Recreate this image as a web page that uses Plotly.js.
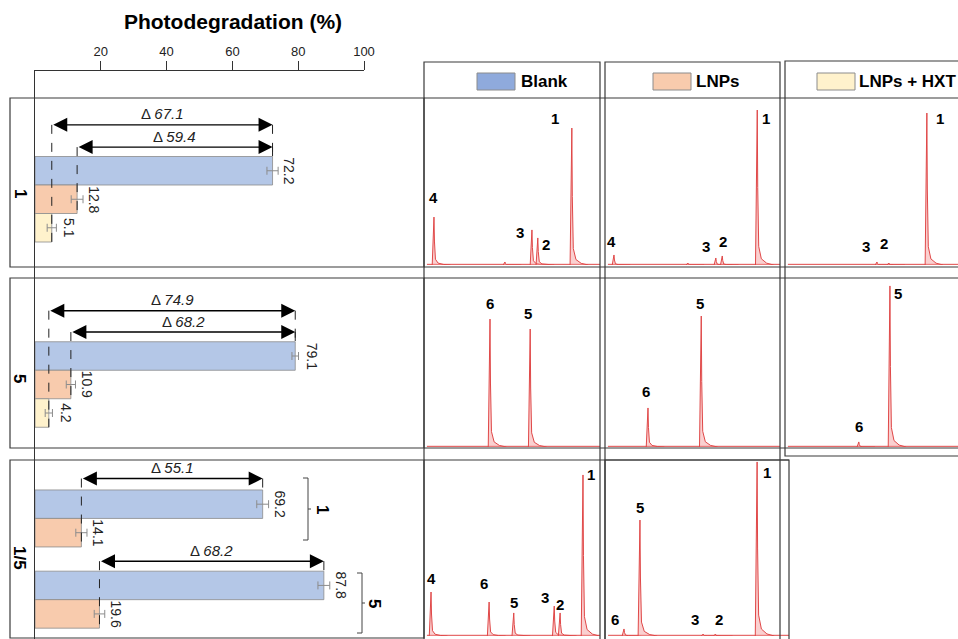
<!DOCTYPE html>
<html><head><meta charset="utf-8">
<script src="https://cdn.plot.ly/plotly-3.0.1.min.js"></script>
<style>html,body{margin:0;padding:0;background:#fff}#chart{width:958px;height:639px}</style>
</head><body><div id="chart"></div>
<script>
// ================= DATA =================
const groups = ["Blank", "LNPs", "LNPs + HXT"];
const rowLabels = ["1", "5", "1/5"];
const mixLabels = ["1", "5"];
const xTicks = [20, 40, 60, 80, 100];

// photodegradation (%) and error
const row1Values = [72.2, 12.8, 5.1];
const row1Errors = [1.7, 1.8, 1.4];
const row5Values = [79.1, 10.9, 4.2];
const row5Errors = [1.0, 1.4, 1.1];
const mix1Values = [69.2, 14.1];
const mix1Errors = [1.8, 1.7];
const mix5Values = [87.8, 19.6];
const mix5Errors = [1.8, 1.6];

// chromatogram peaks: label, retention time (min), relative intensity (%)
const blank1Lbl = ["4", "", "3", "2", "1"];
const blank1Rt = [1.7, 13.8, 18.4, 19.4, 25.2];
const blank1H = [28.7, 1.8, 21.0, 16.2, 82.0];
const lnps1Lbl = ["4", "", "3", "2", "1"];
const lnps1Rt = [1.54, 14.2, 19.0, 20.1, 26.1];
const lnps1H = [6.0, 1.2, 4.2, 5.4, 92.8];
const hxt1Lbl = ["3", "2", "1"];
const hxt1Rt = [15.95, 18.0, 24.6];
const hxt1H = [1.8, 1.2, 91.0];
const blank5Lbl = ["6", "5"];
const blank5Rt = [11.25, 18.1];
const blank5H = [75.7, 69.8];
const lnps5Lbl = ["6", "5"];
const lnps5Rt = [7.37, 16.5];
const lnps5H = [23.1, 77.5];
const hxt5Lbl = ["6", "5"];
const hxt5Rt = [12.8, 18.2];
const hxt5H = [3.0, 95.3];
const blankMixLbl = ["4", "6", "5", "3", "2", "1"];
const blankMixRt = [1.2, 11.1, 15.3, 22.2, 23.2, 27.1];
const blankMixH = [25.0, 19.3, 13.1, 17.0, 13.1, 91.5];
const lnpsMixLbl = ["6", "5", "3", "2", "1"];
const lnpsMixRt = [3.1, 5.7, 16.0, 18.0, 24.8];
const lnpsMixH = [4.0, 65.9, 1.1, 1.1, 98.9];

// ================= LAYOUT / STYLE =================
const W = 958, H = 639;
const px = x => x / W, py = y => 1 - y / H;
const FONT = "Arial, 'Liberation Sans', sans-serif";
const barColors = ["#B4C7E7", "#F8CBAD", "#FFF2CC"];
const swatchColors = ["#8FAADC", "#F8CBAD", "#FFF2CC"];
const lineCol = "#3a3a3a";
const axisTopPx = 71, slotPx = 28.5;
const yMax = (H - axisTopPx) / slotPx;

const traces = [];
const annotations = [];
const shapes = [];
const ann = o => annotations.push(Object.assign({xanchor: "center", yanchor: "middle", showarrow: false}, o));

// ---- bar groups (positions in slot units) ----
const barGroups = [
  {vals: row1Values, errs: row1Errors, slots: [3.5, 4.5, 5.5], colors: barColors},
  {vals: row5Values, errs: row5Errors, slots: [10, 11, 12], colors: barColors},
  {vals: mix1Values, errs: mix1Errors, slots: [15.2, 16.2], colors: barColors.slice(0, 2)},
  {vals: mix5Values, errs: mix5Errors, slots: [18.05, 19.05], colors: barColors.slice(0, 2)}
];
barGroups.forEach(g => {
  traces.push({
    type: "bar", orientation: "h", x: g.vals, y: g.slots, width: 1,
    marker: {color: g.colors, line: {color: "#8c8c8c", width: 0.8}},
    error_x: {type: "data", array: g.errs, visible: true, color: "#8c8c8c", thickness: 1, width: 4},
    xaxis: "x", yaxis: "y", hoverinfo: "x"
  });
  g.vals.forEach((v, i) => ann({
    xref: "x", yref: "y", x: v, y: g.slots[i], xshift: 17, text: v.toFixed(1),
    textangle: 90, font: {family: FONT, size: 14, color: "#222"}
  }));
});

// ---- delta arrows ----
const deltas = [
  {from: row1Values[2], to: row1Values[0], y: 1.89, barBottom: 6.0, topBar: 3.0},
  {from: row1Values[1], to: row1Values[0], y: 2.67, barBottom: 5.0, topBar: 3.0},
  {from: row5Values[2], to: row5Values[0], y: 8.41, barBottom: 12.5, topBar: 9.5},
  {from: row5Values[1], to: row5Values[0], y: 9.16, barBottom: 11.5, topBar: 9.5},
  {from: mix1Values[1], to: mix1Values[0], y: 14.3, barBottom: 16.7, topBar: 14.7},
  {from: mix5Values[1], to: mix5Values[0], y: 17.2, barBottom: 19.55, topBar: 17.55}
];
deltas.forEach(d => {
  annotations.push({
    xref: "x", yref: "y", axref: "x", ayref: "y", x: d.to, y: d.y, ax: d.from, ay: d.y,
    text: "", showarrow: true, arrowhead: 2, startarrowhead: 2, arrowside: "end+start",
    arrowsize: 2, startarrowsize: 2, arrowwidth: 1.4, arrowcolor: "#000", standoff: 0, startstandoff: 0
  });
  ann({
    xref: "x", yref: "y", x: (d.from + d.to) / 2, y: d.y, yshift: 11,
    text: "Δ <i>" + (d.to - d.from).toFixed(1) + "</i>",
    font: {family: FONT, size: 15, color: "#222"}
  });
  shapes.push({type: "line", xref: "x", yref: "y", x0: d.from, x1: d.from, y0: d.y, y1: d.barBottom,
    line: {color: "#222", width: 1, dash: "dash"}});
  shapes.push({type: "line", xref: "x", yref: "y", x0: d.to, x1: d.to, y0: d.y, y1: d.topBar,
    line: {color: "#222", width: 1, dash: "dash"}});
});

// ---- row labels ----
[[20, 193], [20, 378], [20, 558]].forEach((p, i) => ann({
  xref: "paper", yref: "paper", x: px(p[0]), y: py(p[1]), text: "<b>" + rowLabels[i] + "</b>",
  textangle: 90, font: {family: FONT, size: 17, color: "#000"}
}));
// ---- brackets in mix row ----
[{x: 303, y0: 478, y1: 540, lx: 322}, {x: 357, y0: 573, y1: 633, lx: 375}].forEach((b, i) => {
  const xa = px(b.x), xb = px(b.x + 5), xc = px(b.x + 8), ym = py((b.y0 + b.y1) / 2);
  shapes.push({type: "path", xref: "paper", yref: "paper",
    path: `M${xa},${py(b.y0)} L${xb},${py(b.y0)} L${xb},${py(b.y1)} L${xa},${py(b.y1)} M${xb},${ym} L${xc},${ym}`,
    line: {color: "#444", width: 1}});
  ann({xref: "paper", yref: "paper", x: px(b.lx), y: ym, text: "<b>" + mixLabels[i] + "</b>",
    textangle: 90, font: {family: FONT, size: 17, color: "#000"}});
});

// ---- frame boxes ----
const rect = (x0, y0, x1, y1) => shapes.push({type: "rect", xref: "paper", yref: "paper",
  x0: px(x0), x1: px(x1), y0: py(y0), y1: py(y1), line: {color: lineCol, width: 1.2}});
const hline = (y, x0, x1) => shapes.push({type: "line", xref: "paper", yref: "paper",
  x0: px(x0), x1: px(x1), y0: py(y), y1: py(y), line: {color: lineCol, width: 1.2}});
rect(10, 98, 424, 267); rect(10, 278, 424, 448); rect(10, 460, 424, 638);
rect(424, 62, 600, 640); rect(605, 62, 780, 640); rect(785, 61, 966, 456);
rect(605, 460, 789, 640);
hline(98, 424, 958); hline(267, 424, 958); hline(278, 424, 958); hline(448, 424, 958); hline(460, 424, 789);

// ---- header legends ----
const headers = [{sx: 477, tx: 519}, {sx: 653, tx: 694}, {sx: 817, tx: 857}];
headers.forEach((h, i) => {
  shapes.push({type: "rect", xref: "paper", yref: "paper", x0: px(h.sx), x1: px(h.sx + 38),
    y0: py(73), y1: py(90), fillcolor: swatchColors[i], line: {color: "#8c8c8c", width: 1}});
  ann({xref: "paper", yref: "paper", x: px(h.tx), y: py(82), xanchor: "left",
    text: "<b>" + groups[i] + "</b>", font: {family: FONT, size: 17, color: "#000"}});
});

// ---- chromatograms ----
const peakDx = [-0.3, -0.06, 0, 0.08, 0.25, 0.7, 1.6, 2.8];
const peakFy = [0, 0.6, 1, 0.5, 0.12, 0.04, 0.012, 0];
const panels = [
  {lbl: blank1Lbl, rt: blank1Rt, h: blank1H, L: 424, R: 600, base: 265, top: 98,
   off: [[0, -20], null, [-12, 3], [8, 7], [-17, -10]]},
  {lbl: lnps1Lbl, rt: lnps1Rt, h: lnps1H, L: 605, R: 780, base: 265, top: 98,
   off: [[-2, -13], null, [-10, -11], [1, -14], [9, 8]]},
  {lbl: hxt1Lbl, rt: hxt1Rt, h: hxt1H, L: 785, R: 958, base: 265, top: 98,
   off: [[-11, -15], [-5, -20], [13, 5]]},
  {lbl: blank5Lbl, rt: blank5Rt, h: blank5H, L: 424, R: 600, base: 447, top: 278,
   off: [[0, -16], [-2, -16]]},
  {lbl: lnps5Lbl, rt: lnps5Rt, h: lnps5H, L: 605, R: 780, base: 447, top: 278,
   off: [[-2, -16], [-1, -13]]},
  {lbl: hxt5Lbl, rt: hxt5Rt, h: hxt5H, L: 785, R: 958, base: 447, top: 278,
   off: [[0, -15], [8, 8]]},
  {lbl: blankMixLbl, rt: blankMixRt, h: blankMixH, L: 424, R: 600, base: 636, top: 460,
   off: [[0, -14], [-5, -19], [0, -10], [-9, -9], [0, -8], [8, 0]]},
  {lbl: lnpsMixLbl, rt: lnpsMixRt, h: lnpsMixH, L: 605, R: 789, base: 636, top: 460,
   off: [[-9, -9], [0, -13], [-8, -15], [4, -15], [10, 11]]}
];

const layout = {
  width: W, height: H, margin: {l: 0, r: 0, t: 0, b: 0},
  paper_bgcolor: "#fff", plot_bgcolor: "rgba(0,0,0,0)", showlegend: false,
  title: {text: "<b>Photodegradation (%)</b>", x: px(233), xanchor: "center", y: py(22), yanchor: "middle",
    font: {family: FONT, size: 21, color: "#000"}},
  xaxis: {domain: [px(35), px(364)], range: [0, 100], side: "top", anchor: "y",
    tickvals: xTicks, ticktext: xTicks.map(String), ticks: "outside", ticklen: 9, tickcolor: "#333",
    showline: true, linecolor: "#333", linewidth: 1, showgrid: false, zeroline: false,
    tickfont: {family: FONT, size: 13, color: "#222"}, fixedrange: true},
  yaxis: {domain: [0, py(axisTopPx)], range: [yMax, 0], showline: true, linecolor: "#333", linewidth: 1,
    showticklabels: false, ticks: "", showgrid: false, zeroline: false, fixedrange: true, anchor: "x"},
  annotations: annotations, shapes: shapes
};

panels.forEach((p, k) => {
  const n = k + 2, xa = "x" + n, ya = "y" + n;
  layout["xaxis" + n] = {domain: [px(p.L), px(p.R)], range: [0, 30], visible: false, anchor: ya, fixedrange: true};
  layout["yaxis" + n] = {domain: [py(p.base), py(p.top)], range: [0, 100], visible: false, anchor: xa, fixedrange: true};
  traces.push({type: "scatter", mode: "lines", x: [0.5, 30], y: [0.4, 0.4], xaxis: xa, yaxis: ya,
    line: {color: "#e04848", width: 1}, hoverinfo: "skip"});
  p.rt.forEach((t, i) => {
    traces.push({type: "scatter", mode: "lines", xaxis: xa, yaxis: ya,
      x: peakDx.map(d => t + d), y: peakFy.map(f => f * p.h[i]),
      fill: "tozeroy", fillcolor: "rgba(245,150,150,0.45)", line: {color: "#e04848", width: 1},
      hoverinfo: "skip"});
    if (p.lbl[i] && p.off[i]) ann({xref: xa, yref: ya, x: t, y: p.h[i],
      xshift: p.off[i][0], yshift: -p.off[i][1], text: "<b>" + p.lbl[i] + "</b>",
      font: {family: FONT, size: 15, color: "#000"}});
  });
});

Plotly.newPlot("chart", traces, layout, {displayModeBar: false, staticPlot: true});
</script></body></html>
